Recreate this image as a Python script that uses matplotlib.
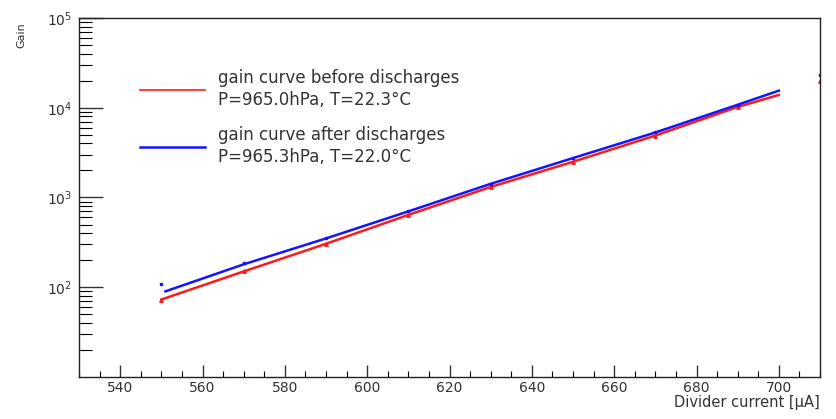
import matplotlib
matplotlib.use("Agg")
import matplotlib.pyplot as plt
from matplotlib.ticker import MultipleLocator, LogLocator, NullFormatter

plt.rcParams['font.family'] = ['DejaVu Sans']
plt.rcParams['mathtext.fontset'] = 'dejavusans'

# gain curves (fit lines)
cur_before = [550, 570, 590, 610, 630, 650, 670, 690, 700]
gain_before = [73, 150, 305, 640, 1310, 2500, 4900, 10200, 13900]
cur_after = [551, 570, 590, 610, 630, 650, 670, 690, 700]
gain_after = [90, 180, 350, 700, 1420, 2750, 5300, 10800, 15500]

# measured points
pts_cur = [550, 570, 590, 610, 630, 650, 670, 690, 710]
pts_before = [72, 150, 305, 640, 1310, 2480, 4880, 10200, 20000]
pts_after = [110, 185, 352, 705, 1430, 2760, 5320, 10850, 23300]

label_before = "gain curve before discharges\nP=965.0hPa, T=22.3\u00b0C"
label_after = "gain curve after discharges\nP=965.3hPa, T=22.0\u00b0C"

fig = plt.figure(figsize=(8.36, 4.19), dpi=100)
ax = fig.add_axes([79/836, 1-377/419, (820-79)/836, (377-18)/419])

ax.plot(cur_before, gain_before, color='#ff1a1a', lw=1.8, label=label_before)
ax.plot(cur_after, gain_after, color='#1414ff', lw=1.8, label=label_after)
ax.plot(pts_cur, pts_before, ls='none', marker='^', ms=2.5, color='#ff1a1a')
ax.plot(pts_cur, pts_after, ls='none', marker='s', ms=2, color='#1414ff')

ax.set_yscale('log')
ax.set_xlim(530, 710)
ax.set_ylim(10, 1e5)

ax.xaxis.set_major_locator(MultipleLocator(20))
ax.xaxis.set_minor_locator(MultipleLocator(5))
ax.yaxis.set_minor_locator(LogLocator(base=10, subs=range(2, 10), numticks=10))
ax.yaxis.set_minor_formatter(NullFormatter())
ax.set_yticks([100, 1000, 10000, 100000])
ax.set_yticklabels(['$10^{2}$', '$10^{3}$', '$10^{4}$', '$10^{5}$'])

ax.tick_params(axis='x', which='major', direction='in', length=9, width=1, labelsize=10, pad=3, top=False)
ax.tick_params(axis='x', which='minor', direction='in', length=4, width=0.8, top=False)
ax.tick_params(axis='y', which='major', direction='in', length=17, width=1, labelsize=10, pad=5, right=False)
ax.tick_params(axis='y', which='minor', direction='in', length=9, width=0.8, right=False)
for s in ax.spines.values():
    s.set_linewidth(1)
    s.set_color('#222222')
ax.tick_params(colors='#333333')

fig.text(820/836, 1-402/419, "Divider current [\u00b5A]", ha='right', va='center', fontsize=10.5, color='#333333')
fig.text(21/836, 1-35/419, "Gain", rotation=90, ha='center', va='center', fontsize=8, color='#333333')

leg = ax.legend(loc='upper left', bbox_to_anchor=(140/836, 1-69/419), bbox_transform=fig.transFigure,
                frameon=False, fontsize=12, handlelength=3.9, handletextpad=0.75,
                labelspacing=1.0, borderpad=0, borderaxespad=0)
for t in leg.get_texts():
    t.set_color('#333333')
    t.set_linespacing(1.3)
leg.get_lines()[0].set_linewidth(1.2)
leg.get_lines()[1].set_linewidth(1.8)

fig.savefig('out.png', dpi=100)
